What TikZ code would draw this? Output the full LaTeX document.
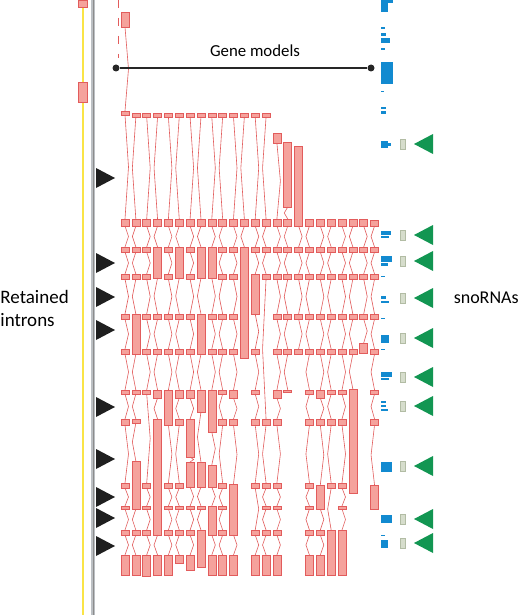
\documentclass[tikz,border=0pt]{standalone}
\usepackage{fontspec}
\setmainfont{Carlito}
\definecolor{exonfill}{RGB}{245,162,156}
\definecolor{exonline}{RGB}{226,92,92}
\definecolor{snoblue}{RGB}{18,138,208}
\definecolor{snogreen}{RGB}{18,150,82}
\definecolor{snogray}{RGB}{214,221,204}
\definecolor{snograyline}{RGB}{178,188,164}
\definecolor{trackyellow}{RGB}{250,228,70}
\definecolor{trackgray}{RGB}{188,192,196}
\begin{document}
\begin{tikzpicture}[x=0.5pt, y=-0.5pt,
  exon/.style={draw=exonline, fill=exonfill, line width=0.3pt},
  intron/.style={draw=exonline, line width=0.3pt},
  label/.style={font=\fontsize{9.5}{11.5}\selectfont, align=left, inner sep=0pt},
  dot/.style={circle, fill=black!85, inner sep=0pt, minimum size=3.5pt}]
\useasboundingbox (0,0) rectangle (520,615);
\fill[white] (0,0) rectangle (520,615);
\draw[trackyellow, line width=1pt] (83,0) -- (83,615);
\draw[trackgray, line width=2.4pt] (93,0) -- (93,615);
\draw[black!45, line width=0.4pt] (93,0) -- (93,615);
\draw[exon] (78,0) rectangle (87,7);
\draw[exon] (78,82) rectangle (87,102);
\draw[intron, dash pattern=on 4pt off 5pt] (118,0) -- (118,58);
\foreach \c/\L in {
  0/{12/27,111/115,219/226,247/252,274/279,314/319,349/354,390/394,419/425,483/488,506/509,530/535,555/575},
  1/{113/117,219/226,247/252,274/279,314/354,390/394,419/423,461/509,530/535,555/575},
  2/{113/117,219/226,247/252,274/279,314/319,349/354,390/394,483/488,506/509,530/535,555/576},
  3/{113/117,219/226,247/278,314/319,349/354,390/398,419/535,555/575},
  4/{113/117,219/226,247/252,274/279,314/319,349/354,390/425,483/488,506/509,530/535,555/575},
  5/{113/117,219/226,247/278,314/319,349/354,390/398,419/425,483/488,506/509,530/535,555/563},
  6/{113/117,219/226,247/252,274/279,314/319,349/354,390/398,419/457,462/487,506/509,530/535,555/570},
  7/{113/117,219/226,247/278,314/354,390/412,462/487,506/509,530/567},
  8/{113/117,219/226,247/278,314/319,349/354,390/432,465/487,506/535,555/575},
  9/{113/117,219/226,247/252,274/279,314/319,349/354,390/394,419/425,483/488,506/509,530/535,555/575},
  10/{113/117,219/226,247/252,274/279,314/319,349/354,390/398,419/425,484/535,555/575},
  11/{113/117,219/226,247/358},
  12/{113/117,219/226,247/252,274/314,349/354,390/394,419/425,483/488,530/535,555/575},
  13/{113/117,219/226,247/252,274/279,419/425,483/488,506/509,530/535,555/575},
  14/{133/143,219/226,247/252,274/279,314/319,349/354,390/398,419/425,483/488,506/509,530/535,555/575},
  15/{142/207,219/226,247/252,274/279,314/319,349/354,390/392},
  16/{146/226,247/252,274/279,314/319,349/354},
  17/{219/226,247/252,274/279,314/319,349/354,390/394,419/425,483/488,506/509,530/535,555/575},
  18/{219/226,247/252,274/279,314/319,349/354,390/398,419/425,485/509,530/535,555/575},
  19/{219/226,247/252,274/279,314/319,349/354,390/394,419/425,483/488,530/575},
  20/{219/226,247/252,274/279,314/319,349/354,390/394,419/425,483/488,506/509,530/575},
  21/{219/226,247/252,274/279,314/319,349/354,389/493},
  22/{219/226,247/252,274/279,314/319,343/353},
  23/{220/226,247/252,274/279,314/319,349/354,390/394,419/425,485/509}} {
  \pgfmathsetmacro\xl{121+10.85*\c}
  \pgfmathsetmacro\xm{\xl+4}
  \pgfmathsetmacro\xk{\xm+ifthenelse(mod(\c,2)==0,3.5,-3.5)}
  \foreach \t/\b [remember=\b as \pb (initially 0)] in \L {
    \ifnum\pb>0
      \draw[intron] (\xm,\pb) -- (\xk,{(\pb+\t)/2}) -- (\xm,\t);
    \fi
    \draw[exon] (\xl,\t) rectangle (\xl+8,\b);
  }
}
\foreach \xa/\ya/\xb/\yb in {381/0/393/3, 381/3/388/12, 381/27/385/29, 381/33/386/36,
  381/38/390/43, 381/48/385/50, 381/62/393/84, 381/91/384/92, 381/107/386/109,
  381/111/386/114, 381/141/388/148, 388/143/391/146, 381/231/391/235, 381/236/389/238,
  381/256/392/262, 381/263/388/266, 381/276/385/277, 381/296/386/299, 381/301/389/303,
  381/318/385/319, 381/335/389/343, 381/349/385/350, 381/372/392/377, 381/378/389/380,
  381/401/386/403, 381/405/386/407, 381/409/388/411, 381/462/392/472, 381/515/392/523,
  381/535/385/536, 381/540/388/548}
  \fill[snoblue] (\xa,\ya) rectangle (\xb,\yb);
\foreach \y in {178,263,297,330,407,459,497,518,546}
  \fill[black!88] (96,\y-10) -- (115,\y) -- (96,\y+10) -- cycle;
\foreach \y in {144,235,261,298,338,377,406,466,519,543} {
  \draw[draw=snograyline, fill=snogray, line width=0.3pt] (400,\y-5) rectangle (405,\y+5);
  \fill[snogreen] (433,\y-10) -- (414,\y) -- (433,\y+10) -- cycle;
}
\node[dot] (gmL) at (116,68) {};
\node[dot] (gmR) at (371,68) {};
\draw[black!85, line width=0.75pt] (gmL) -- (gmR);
\node[anchor=base, font=\fontsize{8.4}{10}\selectfont, inner sep=0pt] (genemodels) at (255,57) {Gene models};
\node[label, anchor=north west] (retained) at (0,289.5) {Retained\\introns};
\node[label, anchor=base east, font=\fontsize{9}{11}\selectfont] (snornas) at (519,303) {snoRNAs};
\end{tikzpicture}
\end{document}
